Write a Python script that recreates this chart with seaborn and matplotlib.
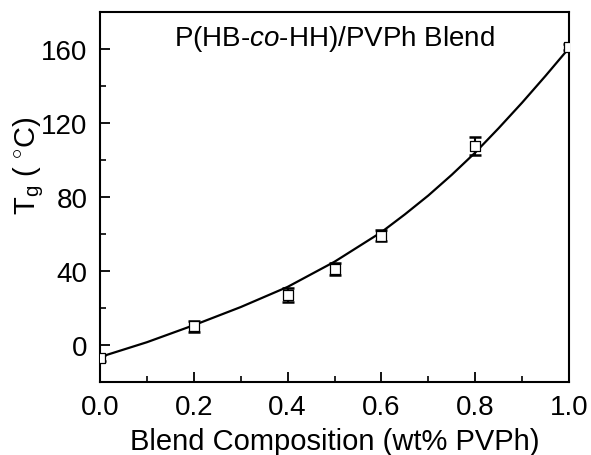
import matplotlib
matplotlib.use("Agg")
import matplotlib.pyplot as plt
import seaborn as sns
import pandas as pd
from matplotlib.ticker import MultipleLocator

# measured data
comp = [0.0, 0.2, 0.4, 0.5, 0.6, 0.8, 1.0]
tg = [-7, 10, 27, 41, 59, 107.5, 161]
tg_err = [1.5, 3, 4, 3.3, 3, 4.7, 1.5]

# fitted curve
fit_x = [0.0, 0.1, 0.2, 0.3, 0.4, 0.5, 0.6, 0.65, 0.7, 0.75, 0.8, 0.85, 0.9, 0.95, 1.0]
fit_y = [-6.5, 1.5, 10.7, 20.5, 31.4, 45, 61, 70.6, 80.8, 92.0, 104, 117.2, 131.0, 145.5, 160.5]

x_ticks = [0.0, 0.2, 0.4, 0.6, 0.8, 1.0]
y_ticks = [0, 40, 80, 120, 160]

sns.set_style("ticks")
plt.rcParams['font.family'] = ['Liberation Sans', 'DejaVu Sans']
plt.rcParams['mathtext.fontset'] = 'custom'
plt.rcParams['mathtext.rm'] = 'Liberation Sans'
plt.rcParams['mathtext.it'] = 'Liberation Sans:italic'
plt.rcParams['text.color'] = 'black'
plt.rcParams['axes.labelcolor'] = 'black'
plt.rcParams['xtick.color'] = 'black'
plt.rcParams['ytick.color'] = 'black'

fig = plt.figure(figsize=(5.91, 4.56), dpi=100)
ax = fig.add_axes([0.1692, 0.1601, 0.7936, 0.8114])

df_fit = pd.DataFrame({"x": fit_x, "y": fit_y})
df = pd.DataFrame({"x": comp, "y": tg})

sns.lineplot(data=df_fit, x="x", y="y", ax=ax, color="black", lw=1.6, zorder=2)
ax.errorbar(comp, tg, yerr=tg_err, fmt="none", ecolor="black", elinewidth=1.5,
            capsize=4.5, capthick=1.8, zorder=3)
sns.scatterplot(data=df, x="x", y="y", ax=ax, marker="s", s=60,
                facecolor="white", edgecolor="black", linewidth=0.9, zorder=4)

ax.set_xlim(0, 1.0)
ax.set_ylim(-20, 180)
ax.set_xticks(x_ticks)
ax.set_yticks(y_ticks)
ax.xaxis.set_minor_locator(MultipleLocator(0.1))
ax.yaxis.set_minor_locator(MultipleLocator(20))
ax.tick_params(which="major", direction="in", length=7, width=1.3, labelsize=20,
               top=False, right=False)
ax.tick_params(axis="x", which="major", pad=9)
ax.tick_params(axis="y", which="major", pad=9)
ax.tick_params(which="minor", direction="in", length=4, width=1.2, top=False, right=False)
for s in ax.spines.values():
    s.set_linewidth(1.5)
    s.set_color("black")

ax.set_xlabel("Blend Composition (wt% PVPh)", fontsize=21, labelpad=5)
ax.set_ylabel(r"T$_\mathregular{g}$ ( $^{\circ}$C)", fontsize=21)
ax.yaxis.set_label_coords(-0.115, 0.586)

ax.text(0.5, 0.97, r"P(HB-$\mathit{co}$-HH)/PVPh Blend", transform=ax.transAxes,
        ha="center", va="top", fontsize=20)

fig.savefig("out.png", dpi=100)
